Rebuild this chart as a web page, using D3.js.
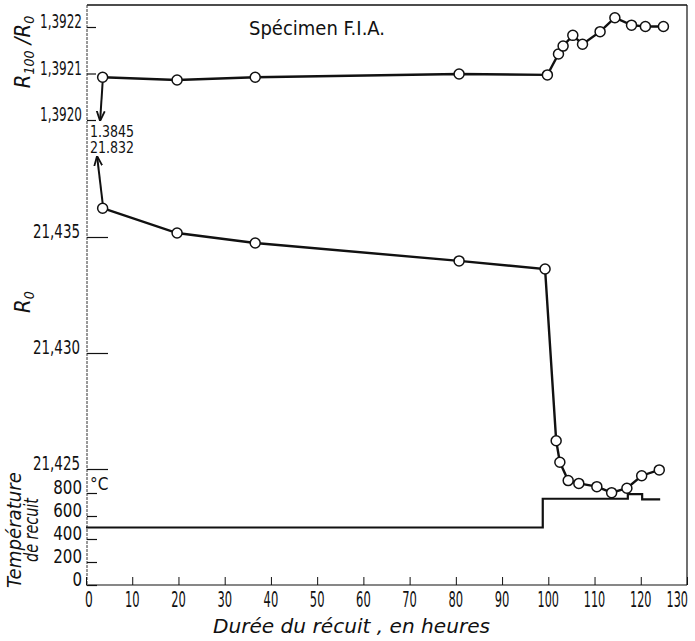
<!DOCTYPE html>
<html><head><meta charset="utf-8">
<script src="https://cdn.jsdelivr.net/npm/d3@7"></script>
<style>
html,body{margin:0;padding:0;background:#fff;}
svg{display:block;}
.lbl{font-family:"Liberation Sans Narrow","DejaVu Sans Condensed","Liberation Sans",sans-serif;fill:#111;}
.it{font-style:italic;}
</style></head>
<body>
<script>
// ---- data ----
const xTicks = [0,10,20,30,40,50,60,70,80,90,100,110,120,130];
const ratioTicks = [1.3920,1.3921,1.3922];
const ratioTickLabels = ["1,3920","1,3921","1,3922"];
const r0Ticks = [21.425,21.430,21.435];
const r0TickLabels = ["21,425","21,430","21,435"];
const tempTicks = [0,200,400,600,800];
const tempTickLabels = ["0","200","400","600","800"];

const ratioHours = [3.6,19.7,36.6,80.7,99.8,102.2,103.2,105.3,107.4,111.2,114.4,118.0,121.0,124.9];
const ratioValues = [1.392092,1.392086,1.392092,1.392099,1.392097,1.392142,1.392159,1.392182,1.392163,1.392190,1.392220,1.392204,1.392201,1.392201];

const r0Hours = [3.6,19.7,36.6,80.7,99.3,101.7,102.5,104.3,106.6,110.5,113.7,117.0,120.2,124.0];
const r0Values = [21.43624,21.43517,21.43474,21.43397,21.43362,21.42622,21.42529,21.42450,21.42438,21.42424,21.42398,21.42417,21.42471,21.42496];

const tempHours = [0,98.8,117.2,120.3,124.2];
const tempValues = [500,750,790,745,745];

// annotation: initial values before annealing
const initialLabels = ["1.3845","21.832"];
const arrowRatioTip = 1.39200;
const arrowR0Tip = 21.43845;

// ---- drawing ----
(function(){
const W=695,H=641;
const svg=d3.select("body").append("svg").attr("width",W).attr("height",H);
const x=d3.scaleLinear().domain([0,130]).range([86,687]);
const yR=d3.scaleLinear().domain([1.3920,1.3922]).range([120,27]);
const yR0=d3.scaleLinear().domain([21.425,21.435]).range([469,237]);
const yT=d3.scaleLinear().domain([0,800]).range([585,493]);

const ink="#111";
const fL=x(0)+1, fR=x(130), fT=5, fB=yT(0);

// frame
svg.append("line").attr("x1",fL).attr("x2",fR).attr("y1",fT).attr("y2",fT).attr("stroke",ink).attr("stroke-width",1.5);
svg.append("line").attr("x1",fR).attr("x2",fR).attr("y1",fT).attr("y2",fB).attr("stroke",ink).attr("stroke-width",1.2);
svg.append("line").attr("x1",fL).attr("x2",fL).attr("y1",fT).attr("y2",fB).attr("stroke","#333").attr("stroke-width",1).attr("stroke-dasharray","3,1");

// x axis
const xAxis=d3.axisTop(x).tickValues(xTicks).tickSize(8).tickFormat("");
const gx=svg.append("g").attr("transform",`translate(0,${fB})`).call(xAxis);
gx.select(".domain").attr("stroke",ink).attr("stroke-width",1.2).attr("d",`M${x(0)},0H${x(130)}`);
gx.selectAll(".tick line").attr("stroke",ink);
const last=xTicks[xTicks.length-1];
svg.append("g").selectAll("text").data(xTicks).join("text").attr("class","lbl")
  .attr("x",d=>d===last?688:d===0?89:x(d)).attr("y",607)
  .attr("text-anchor",d=>d===last?"end":"middle").attr("font-size",22)
  .attr("textLength",d=>String(d).length*6.8+1).attr("lengthAdjust","spacingAndGlyphs")
  .text(d=>d);

// y axes (ticks inside)
function yAxisDraw(scale,ticks,labels,len,fs,endX,perChar){
  const ax=d3.axisRight(scale).tickValues(ticks).tickSize(len).tickFormat("");
  const g=svg.append("g").attr("transform",`translate(${fL},0)`).call(ax);
  g.select(".domain").remove();
  g.selectAll(".tick line").attr("stroke",ink).attr("stroke-width",1.2);
  svg.append("g").selectAll("text").data(ticks).join("text").attr("class","lbl")
    .attr("x",endX).attr("y",d=>scale(d)+1).attr("text-anchor","end").attr("font-size",fs)
    .attr("textLength",(d,i)=>perChar(labels[i])).attr("lengthAdjust","spacingAndGlyphs")
    .text((d,i)=>labels[i]);
}
yAxisDraw(yR,ratioTicks,ratioTickLabels,9,20,82,()=>42);
yAxisDraw(yR0,r0Ticks,r0TickLabels,21,20,80,()=>47);
yAxisDraw(yT,tempTicks,tempTickLabels,10,19,82,s=>s.length*9.6);

// °C
svg.append("text").attr("class","lbl").attr("x",90).attr("y",yT(800)-3).attr("font-size",17).text("°C");

// temperature step line
const tempData=tempHours.map((h,i)=>[h,tempValues[i]]);
svg.append("path").datum(tempData).attr("fill","none").attr("stroke",ink).attr("stroke-width",2.2)
  .attr("d",d3.line().x(d=>x(d[0])).y(d=>yT(d[1])).curve(d3.curveStepAfter));

// series
function series(hours,vals,scale){
  const data=hours.map((h,i)=>[h,vals[i]]);
  svg.append("path").datum(data).attr("fill","none").attr("stroke",ink).attr("stroke-width",2.4)
    .attr("d",d3.line().x(d=>x(d[0])).y(d=>scale(d[1])));
  svg.append("g").selectAll("circle").data(data).join("circle")
    .attr("cx",d=>x(d[0])).attr("cy",d=>scale(d[1])).attr("r",5)
    .attr("fill","#fff").attr("stroke",ink).attr("stroke-width",1.5);
}
series(ratioHours,ratioValues,yR);
series(r0Hours,r0Values,yR0);

// arrows
const defs=svg.append("defs");
defs.append("marker").attr("id","ah").attr("viewBox","0 0 10 10").attr("refX",9).attr("refY",5)
  .attr("markerWidth",10).attr("markerHeight",12).attr("orient","auto").attr("markerUnits","userSpaceOnUse")
  .append("path").attr("d","M0,1 L10,5 L0,9").attr("fill","none").attr("stroke",ink).attr("stroke-width",1.8);
svg.append("line").attr("x1",x(ratioHours[0])).attr("y1",yR(ratioValues[0])+5)
  .attr("x2",x(ratioHours[0])-2.5).attr("y2",yR(arrowRatioTip)).attr("stroke",ink).attr("stroke-width",2).attr("marker-end","url(#ah)");
svg.append("line").attr("x1",x(r0Hours[0])).attr("y1",yR0(r0Values[0])-5)
  .attr("x2",x(r0Hours[0])-5.5).attr("y2",yR0(arrowR0Tip)).attr("stroke",ink).attr("stroke-width",2).attr("marker-end","url(#ah)");

svg.append("g").selectAll("text").data(initialLabels).join("text").attr("class","lbl")
  .attr("x",90).attr("y",(d,i)=>137+i*16).attr("font-size",15)
  .attr("textLength",44).attr("lengthAdjust","spacingAndGlyphs")
  .text(d=>d);

// title
svg.append("text").attr("class","lbl").attr("x",249).attr("y",35).attr("font-size",20)
  .style("font-family","'DejaVu Sans Condensed','Liberation Sans Narrow',sans-serif")
  .attr("textLength",136).attr("lengthAdjust","spacingAndGlyphs").text("Spécimen F.I.A.");

// axis titles
svg.append("text").attr("class","lbl it").attr("x",213).attr("y",633).attr("font-size",20)
  .attr("textLength",277).attr("lengthAdjust","spacingAndGlyphs")
  .text("Durée du récuit , en heures");

const t1=svg.append("text").attr("class","lbl it").attr("transform","translate(30,52) rotate(-90)").attr("text-anchor","middle").attr("font-size",22);
t1.append("tspan").text("R");
t1.append("tspan").attr("font-size",14).attr("dy",4).text("100");
t1.append("tspan").attr("dy",-4).text(" /R");
t1.append("tspan").attr("font-size",14).attr("dy",4).text("0");

const t2=svg.append("text").attr("class","lbl it").attr("transform","translate(30,302) rotate(-90)").attr("text-anchor","middle").attr("font-size",22);
t2.append("tspan").text("R");
t2.append("tspan").attr("font-size",14).attr("dy",4).text("0");

svg.append("text").attr("class","lbl it").attr("transform","translate(21,588) rotate(-90)").attr("font-size",20)
  .attr("textLength",116).attr("lengthAdjust","spacingAndGlyphs").text("Température");
svg.append("text").attr("class","lbl it").attr("transform","translate(38,562) rotate(-90)").attr("font-size",20)
  .attr("textLength",64).attr("lengthAdjust","spacingAndGlyphs").text("de recuit");
})();
</script>
</body></html>
